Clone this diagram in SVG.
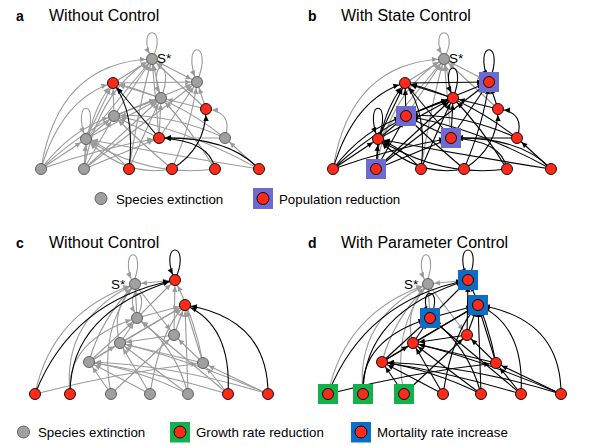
<svg xmlns="http://www.w3.org/2000/svg" width="595" height="446" viewBox="0 0 595 446">
<defs>
<style>
.e{fill:none;stroke-width:1.1}
.g{stroke:#9a9a9a;marker-end:url(#ag)}
.k{stroke:#000;marker-end:url(#ak)}
.g.bi{marker-start:url(#ag)}
.r{fill:#ff2a1a;stroke:#000;stroke-width:0.9}
.y{fill:#a0a0a0;stroke:#555;stroke-width:0.9}
.sp{fill:#6b6bd0}
.sg{fill:#14b04c}
.sb{fill:#0a6ec8}
.t{font-family:"Liberation Sans",Arial,sans-serif;fill:#000}
.ti{font-size:16px}
.lb{font-size:14px;font-weight:bold}
.s{font-size:13.5px}
.lg{font-size:13.3px}
</style>
<marker id="ag" markerUnits="userSpaceOnUse" markerWidth="10" markerHeight="10" refX="6.3" refY="0" orient="auto-start-reverse" overflow="visible"><path d="M-5.6,-2.7L0,0L-5.6,2.7z" fill="#9a9a9a"/></marker>
<marker id="ak" markerUnits="userSpaceOnUse" markerWidth="10" markerHeight="10" refX="6.3" refY="0" orient="auto-start-reverse" overflow="visible"><path d="M-5.6,-2.7L0,0L-5.6,2.7z" fill="#000"/></marker>
</defs>
<rect width="595" height="446" fill="#fff"/>

<!-- Titles -->
<text class="t lb" x="16" y="21">a</text>
<text class="t ti" x="49" y="21">Without Control</text>
<text class="t lb" x="308" y="21">b</text>
<text class="t ti" x="341" y="21">With State Control</text>
<text class="t lb" x="16" y="247.5">c</text>
<text class="t ti" x="49" y="247.5">Without Control</text>
<text class="t lb" x="308" y="247.5">d</text>
<text class="t ti" x="341" y="247.5">With Parameter Control</text>

<!-- Panel a connectors -->
<g id="connectors-a">
<path class="e g" d="M41,169Q58,62 152,59"/>
<path class="e g" d="M41,169Q62,98 113,83"/>
<path class="e g" d="M41,169Q72,128 114,116"/>
<path class="e g" d="M41,169L86,139"/>
<path class="e g" d="M41,169Q95,118 161,98"/>
<path class="e g" d="M41,169Q100,148 159,138"/>
<path class="e g" d="M84,169Q98,90 152,59"/>
<path class="e g" d="M84,169Q88,112 113,83"/>
<path class="e g" d="M84,169L114,116"/>
<path class="e g" d="M84,169L86,139"/>
<path class="e g" d="M84,169L161,98"/>
<path class="e g" d="M84,169Q150,118 197,82"/>
<path class="e g" d="M84,169L159,138"/>
<path class="e g" d="M129,169Q140,100 152,59"/>
<path class="e g" d="M129,169Q148,125 161,98"/>
<path class="e g" d="M129,169Q108,146 86,139"/>
<path class="e g" d="M172,169Q138,140 114,116"/>
<path class="e g" d="M172,169Q192,122 197,82"/>
<path class="e g" d="M172,169Q125,178 86,139"/>
<path class="e g" d="M215,169Q148,178 86,139"/>
<path class="e g" d="M215,169Q190,128 161,98"/>
<path class="e g" d="M259,169L225,138"/>
<path class="e g" d="M259,169Q170,155 86,139"/>
<path class="e g" d="M259,169Q185,128 114,116"/>
<path class="e g" d="M159,138L152,59"/>
<path class="e g" d="M159,138L197,82"/>
<path class="e g" d="M159,138L161,98"/>
<path class="e g" d="M159,138L114,116"/>
<path class="e g" d="M225,138Q234,112 206,109"/>
<path class="e g" d="M225,138L159,138"/>
<path class="e g" d="M225,138Q168,112 114,116"/>
<path class="e g" d="M225,138Q170,95 113,83"/>
<path class="e g" d="M86,139L114,116"/>
<path class="e g" d="M86,139L152,59"/>
<path class="e g" d="M86,139L113,83"/>
<path class="e g" d="M86,139L161,98"/>
<path class="e g" d="M114,116L113,83"/>
<path class="e g" d="M114,116L152,59"/>
<path class="e g" d="M114,116L197,82"/>
<path class="e g" d="M114,116L161,98"/>
<path class="e g" d="M161,98L152,59"/>
<path class="e g" d="M161,98L113,83"/>
<path class="e g" d="M113,83L152,59"/>
<path class="e g" d="M113,83L197,82"/>
<path class="e g bi" d="M197,82L152,59"/>
<path class="e g" d="M206,109L197,82"/>
<path class="e g" d="M206,109L161,98"/>
<path class="e g" d="M206,109L152,59"/>
<path class="e g" d="M152,59C170,24 134,24 152,59"/>
<path class="e g" d="M197,82C215,39 179,39 197,82"/>
<path class="e g" d="M161,98C177,58 145,58 161,98"/>
<path class="e g" d="M86,139C102,98 70,98 86,139"/>
<path class="e k" d="M129,169Q136,112 113,83"/>
<path class="e k" d="M172,169Q206,148 206,109"/>
<path class="e k" d="M215,169Q210,140 159,138"/>
<path class="e k" d="M259,169Q228,136 159,138"/>
<path class="e k" d="M159,138L113,83"/>
</g>

<!-- Panel b connectors -->
<g id="connectors-b" transform="translate(292,0)">
<path class="e g" d="M41,169Q58,62 152,59"/>
<path class="e g" d="M84,169Q98,90 152,59"/>
<path class="e g" d="M129,169Q140,100 152,59"/>
<path class="e g" d="M159,138L152,59"/>
<path class="e g" d="M86,139L152,59"/>
<path class="e g" d="M114,116L152,59"/>
<path class="e g" d="M161,98L152,59"/>
<path class="e g" d="M113,83L152,59"/>
<path class="e g bi" d="M197,82L152,59"/>
<path class="e g" d="M206,109L152,59"/>
<path class="e g" d="M152,59C170,24 134,24 152,59"/>
<path class="e k" d="M41,169Q62,98 113,83"/>
<path class="e k" d="M41,169Q72,128 114,116"/>
<path class="e k" d="M41,169L86,139"/>
<path class="e k" d="M41,169Q95,118 161,98"/>
<path class="e k" d="M41,169Q100,148 159,138"/>
<path class="e k" d="M84,169Q88,112 113,83"/>
<path class="e k" d="M84,169L114,116"/>
<path class="e k" d="M84,169L86,139"/>
<path class="e k" d="M84,169L161,98"/>
<path class="e k" d="M84,169Q150,118 197,82"/>
<path class="e k" d="M84,169L159,138"/>
<path class="e k" d="M129,169Q136,112 113,83"/>
<path class="e k" d="M129,169Q148,125 161,98"/>
<path class="e k" d="M129,169Q108,146 86,139"/>
<path class="e k" d="M172,169Q206,148 206,109"/>
<path class="e k" d="M172,169Q138,140 114,116"/>
<path class="e k" d="M172,169Q192,122 197,82"/>
<path class="e k" d="M172,169Q125,178 86,139"/>
<path class="e k" d="M215,169Q210,140 159,138"/>
<path class="e k" d="M215,169Q148,178 86,139"/>
<path class="e k" d="M215,169Q190,128 161,98"/>
<path class="e k" d="M259,169Q228,136 159,138"/>
<path class="e k" d="M259,169L225,138"/>
<path class="e k" d="M259,169Q170,155 86,139"/>
<path class="e k" d="M259,169Q185,128 114,116"/>
<path class="e k" d="M159,138L113,83"/>
<path class="e k" d="M159,138L197,82"/>
<path class="e k" d="M159,138L161,98"/>
<path class="e k" d="M159,138L114,116"/>
<path class="e k" d="M225,138Q234,112 206,109"/>
<path class="e k" d="M225,138L159,138"/>
<path class="e k" d="M225,138Q168,112 114,116"/>
<path class="e k" d="M225,138Q170,95 113,83"/>
<path class="e k" d="M86,139L114,116"/>
<path class="e k" d="M86,139L113,83"/>
<path class="e k" d="M86,139L161,98"/>
<path class="e k" d="M114,116L113,83"/>
<path class="e k" d="M114,116L197,82"/>
<path class="e k" d="M114,116L161,98"/>
<path class="e k" d="M161,98L113,83"/>
<path class="e k" d="M113,83L197,82"/>
<path class="e k" d="M206,109L197,82"/>
<path class="e k" d="M206,109L161,98"/>
<path class="e k" d="M197,82C215,39 179,39 197,82"/>
<path class="e k" d="M161,98C177,58 145,58 161,98"/>
<path class="e k" d="M86,139C102,98 70,98 86,139"/>
</g>

<!-- Panel c connectors -->
<g id="connectors-c">
<path class="e g" d="M35,394Q52,312 135,284"/>
<path class="e g" d="M35,394Q120,372 203,363"/>
<path class="e g" d="M70,394Q62,318 135,284"/>
<path class="e g" d="M70,394Q66,340 137,318"/>
<path class="e g" d="M111,394Q98,330 135,284"/>
<path class="e g" d="M111,394L89,362"/>
<path class="e g" d="M111,394L174,335"/>
<path class="e g" d="M150,394L120,343"/>
<path class="e g" d="M150,394Q160,330 185,305"/>
<path class="e g" d="M150,394L89,362"/>
<path class="e g" d="M188,394L120,343"/>
<path class="e g" d="M188,394L185,305"/>
<path class="e g" d="M188,394Q175,345 137,318"/>
<path class="e g" d="M188,394Q140,370 89,362"/>
<path class="e g" d="M228,394L203,363"/>
<path class="e g" d="M228,394Q155,372 89,362"/>
<path class="e g" d="M228,394L137,318"/>
<path class="e g" d="M268,394L203,363"/>
<path class="e g" d="M268,394Q175,365 89,362"/>
<path class="e g" d="M268,394Q190,360 120,343"/>
<path class="e g" d="M89,362L120,343"/>
<path class="e g" d="M89,362L137,318"/>
<path class="e g" d="M89,362Q100,320 135,284"/>
<path class="e g" d="M89,362L185,305"/>
<path class="e g" d="M120,343L137,318"/>
<path class="e g" d="M120,343Q110,310 135,284"/>
<path class="e g" d="M120,343L185,305"/>
<path class="e g" d="M174,335L185,305"/>
<path class="e g" d="M174,335L175,280"/>
<path class="e g" d="M174,335L120,343"/>
<path class="e g" d="M137,318L135,284"/>
<path class="e g" d="M137,318L175,280"/>
<path class="e g" d="M137,318L185,305"/>
<path class="e g" d="M203,363L185,305"/>
<path class="e g" d="M203,363Q195,320 175,280"/>
<path class="e g" d="M203,363L174,335"/>
<path class="e g" d="M203,363L120,343"/>
<path class="e g bi" d="M175,280L135,284"/>
<path class="e g" d="M135,284L174,335"/>
<path class="e g" d="M133,284C149,245 117,245 133,284"/>
<path class="e g" d="M137,318C153,285 121,285 137,318"/>
<path class="e k" d="M175,280C193,240 157,240 175,280"/>
<path class="e k" d="M35,394Q72,300 175,280"/>
<path class="e k" d="M70,394Q70,312 175,280"/>
<path class="e k" d="M228,394Q232,325 185,305"/>
<path class="e k" d="M268,394Q268,318 185,305"/>
</g>

<!-- Panel d connectors -->
<g id="connectors-d" transform="translate(293,0)">
<path class="e g" d="M35,394Q52,312 135,284"/>
<path class="e g" d="M70,394Q62,318 135,284"/>
<path class="e g" d="M111,394Q98,330 135,284"/>
<path class="e g" d="M89,362Q100,320 135,284"/>
<path class="e g" d="M120,343Q110,310 135,284"/>
<path class="e g" d="M137,318L135,284"/>
<path class="e g bi" d="M175,280L135,284"/>
<path class="e g" d="M135,284L174,335"/>
<path class="e g" d="M133,284C149,245 117,245 133,284"/>
<path class="e k" d="M35,394Q72,300 175,280"/>
<path class="e k" d="M35,394Q120,372 203,363"/>
<path class="e k" d="M70,394Q70,312 175,280"/>
<path class="e k" d="M70,394Q66,340 137,318"/>
<path class="e k" d="M111,394L89,362"/>
<path class="e k" d="M111,394L174,335"/>
<path class="e k" d="M150,394L120,343"/>
<path class="e k" d="M150,394Q160,330 185,305"/>
<path class="e k" d="M150,394L89,362"/>
<path class="e k" d="M188,394L120,343"/>
<path class="e k" d="M188,394L185,305"/>
<path class="e k" d="M188,394Q175,345 137,318"/>
<path class="e k" d="M188,394Q140,370 89,362"/>
<path class="e k" d="M228,394Q232,325 185,305"/>
<path class="e k" d="M228,394L203,363"/>
<path class="e k" d="M228,394Q155,372 89,362"/>
<path class="e k" d="M228,394L137,318"/>
<path class="e k" d="M268,394Q268,318 185,305"/>
<path class="e k" d="M268,394L203,363"/>
<path class="e k" d="M268,394Q175,365 89,362"/>
<path class="e k" d="M268,394Q190,360 120,343"/>
<path class="e k" d="M89,362L120,343"/>
<path class="e k" d="M89,362L137,318"/>
<path class="e k" d="M89,362L185,305"/>
<path class="e k" d="M120,343L137,318"/>
<path class="e k" d="M120,343L185,305"/>
<path class="e k" d="M174,335L185,305"/>
<path class="e k" d="M174,335L175,280"/>
<path class="e k" d="M174,335L120,343"/>
<path class="e k" d="M137,318L175,280"/>
<path class="e k" d="M137,318L185,305"/>
<path class="e k" d="M203,363L185,305"/>
<path class="e k" d="M203,363Q195,320 175,280"/>
<path class="e k" d="M203,363L174,335"/>
<path class="e k" d="M203,363L120,343"/>
<path class="e k" d="M175,280C193,240 157,240 175,280"/>
<path class="e k" d="M137,318C153,285 121,285 137,318"/>
</g>

<!-- Panel a nodes -->
<g id="nodes-a">
<g id="a-S"><circle class="y" cx="152" cy="59" r="5.5"/><text class="t s" x="157" y="63">S*</text></g>
<g id="a-n1"><circle class="r" cx="113" cy="83" r="5.5"/></g>
<g id="a-n2"><circle class="y" cx="197" cy="82" r="5.5"/></g>
<g id="a-n3"><circle class="y" cx="161" cy="98" r="5.5"/></g>
<g id="a-n4"><circle class="r" cx="206" cy="109" r="5.5"/></g>
<g id="a-n5"><circle class="y" cx="114" cy="116" r="5.5"/></g>
<g id="a-n6"><circle class="y" cx="86" cy="139" r="5.5"/></g>
<g id="a-n7"><circle class="r" cx="159" cy="138" r="5.5"/></g>
<g id="a-n8"><circle class="y" cx="225" cy="138" r="5.5"/></g>
<g id="a-b1"><circle class="y" cx="41" cy="169" r="5.5"/></g>
<g id="a-b2"><circle class="y" cx="84" cy="169" r="5.5"/></g>
<g id="a-b3"><circle class="r" cx="129" cy="169" r="5.5"/></g>
<g id="a-b4"><circle class="r" cx="172" cy="169" r="5.5"/></g>
<g id="a-b5"><circle class="r" cx="215" cy="169" r="5.5"/></g>
<g id="a-b6"><circle class="r" cx="259" cy="169" r="5.5"/></g>
</g>

<!-- Panel b nodes -->
<g id="nodes-b" transform="translate(292,0)">
<g id="b-S"><circle class="y" cx="152" cy="59" r="5.5"/><text class="t s" x="157" y="63">S*</text></g>
<g id="b-n1"><circle class="r" cx="113" cy="83" r="5.5"/></g>
<g id="b-n2"><rect class="sp" x="187" y="72" width="20" height="20"/><circle class="r" cx="197" cy="82" r="5.5"/></g>
<g id="b-n3"><circle class="r" cx="161" cy="98" r="5.5"/></g>
<g id="b-n4"><circle class="r" cx="206" cy="109" r="5.5"/></g>
<g id="b-n5"><rect class="sp" x="104" y="106" width="20" height="20"/><circle class="r" cx="114" cy="116" r="5.5"/></g>
<g id="b-n6"><circle class="r" cx="86" cy="139" r="5.5"/></g>
<g id="b-n7"><rect class="sp" x="149" y="128" width="20" height="20"/><circle class="r" cx="159" cy="138" r="5.5"/></g>
<g id="b-n8"><circle class="r" cx="225" cy="138" r="5.5"/></g>
<g id="b-b1"><circle class="r" cx="41" cy="169" r="5.5"/></g>
<g id="b-b2"><rect class="sp" x="74" y="159" width="20" height="20"/><circle class="r" cx="84" cy="169" r="5.5"/></g>
<g id="b-b3"><circle class="r" cx="129" cy="169" r="5.5"/></g>
<g id="b-b4"><circle class="r" cx="172" cy="169" r="5.5"/></g>
<g id="b-b5"><circle class="r" cx="215" cy="169" r="5.5"/></g>
<g id="b-b6"><circle class="r" cx="259" cy="169" r="5.5"/></g>
</g>

<!-- Panel c nodes -->
<g id="nodes-c">
<g id="c-S"><circle class="y" cx="135" cy="284" r="5.5"/><text class="t s" x="111" y="289">S*</text></g>
<g id="c-n1"><circle class="r" cx="175" cy="280" r="5.5"/></g>
<g id="c-n2"><circle class="r" cx="185" cy="305" r="5.5"/></g>
<g id="c-n3"><circle class="y" cx="137" cy="318" r="5.5"/></g>
<g id="c-n4"><circle class="y" cx="174" cy="335" r="5.5"/></g>
<g id="c-n5"><circle class="y" cx="120" cy="343" r="5.5"/></g>
<g id="c-n6"><circle class="y" cx="89" cy="362" r="5.5"/></g>
<g id="c-n7"><circle class="y" cx="203" cy="363" r="5.5"/></g>
<g id="c-b1"><circle class="r" cx="35" cy="394" r="5.5"/></g>
<g id="c-b2"><circle class="r" cx="70" cy="394" r="5.5"/></g>
<g id="c-b3"><circle class="y" cx="111" cy="394" r="5.5"/></g>
<g id="c-b4"><circle class="y" cx="150" cy="394" r="5.5"/></g>
<g id="c-b5"><circle class="y" cx="188" cy="394" r="5.5"/></g>
<g id="c-b6"><circle class="r" cx="228" cy="394" r="5.5"/></g>
<g id="c-b7"><circle class="r" cx="268" cy="394" r="5.5"/></g>
</g>

<!-- Panel d nodes -->
<g id="nodes-d" transform="translate(293,0)">
<g id="d-S"><circle class="y" cx="135" cy="284" r="5.5"/><text class="t s" x="111" y="289">S*</text></g>
<g id="d-n1"><rect class="sb" x="165" y="270" width="20" height="20"/><circle class="r" cx="175" cy="280" r="5.5"/></g>
<g id="d-n2"><rect class="sb" x="175" y="295" width="20" height="20"/><circle class="r" cx="185" cy="305" r="5.5"/></g>
<g id="d-n3"><rect class="sb" x="127" y="308" width="20" height="20"/><circle class="r" cx="137" cy="318" r="5.5"/></g>
<g id="d-n4"><circle class="r" cx="174" cy="335" r="5.5"/></g>
<g id="d-n5"><circle class="r" cx="120" cy="343" r="5.5"/></g>
<g id="d-n6"><circle class="r" cx="89" cy="362" r="5.5"/></g>
<g id="d-n7"><circle class="r" cx="203" cy="363" r="5.5"/></g>
<g id="d-b1"><rect class="sg" x="25" y="384" width="20" height="20"/><circle class="r" cx="35" cy="394" r="5.5"/></g>
<g id="d-b2"><rect class="sg" x="60" y="384" width="20" height="20"/><circle class="r" cx="70" cy="394" r="5.5"/></g>
<g id="d-b3"><rect class="sg" x="101" y="384" width="20" height="20"/><circle class="r" cx="111" cy="394" r="5.5"/></g>
<g id="d-b4"><circle class="r" cx="150" cy="394" r="5.5"/></g>
<g id="d-b5"><circle class="r" cx="188" cy="394" r="5.5"/></g>
<g id="d-b6"><circle class="r" cx="228" cy="394" r="5.5"/></g>
<g id="d-b7"><circle class="r" cx="268" cy="394" r="5.5"/></g>
</g>

<!-- Legends -->
<g id="legend-top">
<circle class="y" cx="101" cy="198.5" r="6"/>
<text class="t lg" x="116" y="203.5">Species extinction</text>
<rect class="sp" x="253" y="188" width="20" height="21"/>
<circle class="r" cx="263" cy="198.5" r="6"/>
<text class="t lg" x="279" y="203.5">Population reduction</text>
</g>
<g id="legend-bottom">
<circle class="y" cx="23.5" cy="432" r="6"/>
<text class="t lg" x="38" y="437">Species extinction</text>
<rect class="sg" x="170" y="422" width="20" height="20.5"/>
<circle class="r" cx="180" cy="432" r="6"/>
<text class="t lg" x="196" y="437">Growth rate reduction</text>
<rect class="sb" x="351" y="422" width="20" height="20.5"/>
<circle class="r" cx="361" cy="432" r="6"/>
<text class="t lg" x="377" y="437">Mortality rate increase</text>
</g>
</svg>
